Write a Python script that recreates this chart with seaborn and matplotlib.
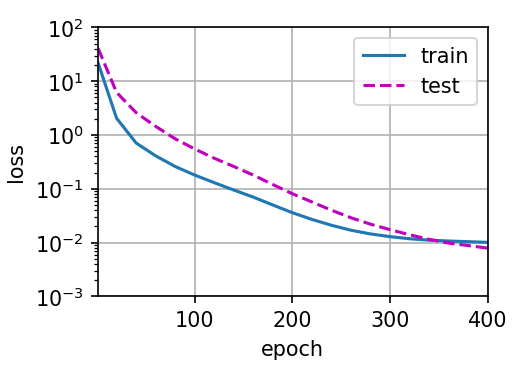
import pandas as pd
import matplotlib
matplotlib.use("Agg")
import matplotlib.pyplot as plt
import seaborn as sns

epochs = [1, 20, 40, 60, 80, 100, 120, 140, 160, 180, 200, 220, 240, 260, 280, 300,
          320, 340, 360, 380, 400]
train_loss = [22, 2.05, 0.71, 0.41, 0.26, 0.18, 0.13, 0.095, 0.07, 0.05, 0.036, 0.027,
              0.021, 0.017, 0.0145, 0.0129, 0.0118, 0.0111, 0.0107, 0.0104, 0.0101]
test_loss = [41, 6.2, 2.6, 1.45, 0.85, 0.55, 0.37, 0.26, 0.18, 0.12, 0.081, 0.057,
             0.040, 0.029, 0.022, 0.0174, 0.0140, 0.0115, 0.0098, 0.0088, 0.0079]

df = pd.DataFrame({
    "epoch": epochs * 2,
    "loss": train_loss + test_loss,
    "series": ["train"] * len(epochs) + ["test"] * len(epochs),
})

plt.rcParams['font.family'] = ['DejaVu Sans']
plt.rcParams['font.size'] = 10
plt.rcParams['axes.labelsize'] = 10
plt.rcParams['xtick.labelsize'] = 10
plt.rcParams['ytick.labelsize'] = 10
plt.rcParams['legend.fontsize'] = 10

fig, ax = plt.subplots(figsize=(3.5, 2.5), dpi=149)
sns.lineplot(data=df, x="epoch", y="loss", hue="series", style="series",
             palette={"train": "#1f77b4", "test": "m"},
             dashes={"train": "", "test": (3.7, 1.6)}, linewidth=1.5, ax=ax)
ax.set_yscale("log")
ax.set_xlim(1, 400)
ax.set_ylim(1e-3, 1e2)
ax.set_xticks([100, 200, 300, 400])
ax.set_xlabel("epoch")
ax.set_ylabel("loss")
ax.grid(True, color="#b0b0b0", linewidth=0.8)
ax.legend(loc="upper right", title=None, framealpha=0.8)

fig.subplots_adjust(left=0.188, right=0.935, top=0.925, bottom=0.203)
fig.savefig("out.png", dpi=149)
